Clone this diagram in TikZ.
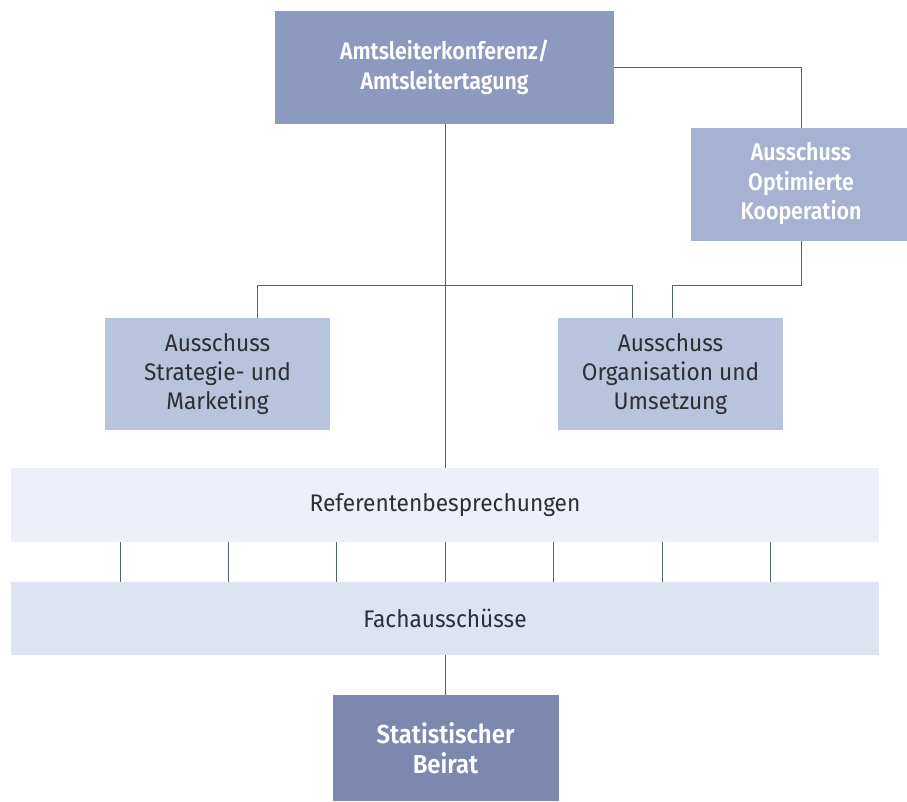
\documentclass[tikz,border=0pt]{standalone}
\usepackage{fontspec}
\setmainfont{Fira Sans}[FakeStretch=0.945, BoldFont={Fira Sans SemiBold}, BoldFeatures={FakeStretch=0.89}]
\newfontfamily\statfont{Fira Sans SemiBold}[FakeStretch=0.92]
\definecolor{cTop}{HTML}{8C9ABF}
\definecolor{cKoop}{HTML}{A6B2D1}
\definecolor{cMid}{HTML}{B8C3DE}
\definecolor{cRef}{HTML}{EDF0F8}
\definecolor{cFach}{HTML}{DEE3F2}
\definecolor{cStat}{HTML}{7B89AE}
\definecolor{cLine}{HTML}{56617F}
\definecolor{cText}{HTML}{2E2E33}
\begin{document}
\begin{tikzpicture}[x=1pt,y=-1pt,
  box/.style={inner sep=0pt, outer sep=0pt, align=center, font=\fontsize{24}{29}\selectfont},
  darkbox/.style={box, text=white, font=\fontsize{24}{29.5}\selectfont\bfseries},
  lightbox/.style={box, text=cText},
  conn/.style={draw=cLine, line width=1pt}]
\useasboundingbox (0,0) rectangle (907,801);
\fill[white] (0,0) rectangle (907,801);
% nodes
\node[darkbox, fill=cTop, minimum width=339, minimum height=113] (top) at (444.5,67.5)
  {Amtsleiterkonferenz/\\Amtsleitertagung};
\node[darkbox, fill=cKoop, minimum width=220, minimum height=113] (koop) at (801,184)
  {Ausschuss\\Optimierte\\Kooperation};
\node[lightbox, fill=cMid, minimum width=225, minimum height=112] (strat) at (217.5,374)
  {Ausschuss\\Strategie- und\\Marketing};
\node[lightbox, fill=cMid, minimum width=225, minimum height=112] (org) at (670.5,374)
  {Ausschuss\\Organisation und\\Umsetzung};
\node[lightbox, fill=cRef, minimum width=868, minimum height=74] (ref) at (445,505)
  {Referentenbesprechungen};
\node[lightbox, fill=cFach, minimum width=868, minimum height=73] (fach) at (445,618.5)
  {Fachausschüsse};
\node[box, text=white, font=\fontsize{26}{30}\statfont, fill=cStat, minimum width=226, minimum height=106] (stat) at (445.5,748)
  {Statistischer\\Beirat};
% connectors
\coordinate (j1) at (801,67);
\coordinate (j2) at (801,285);
\coordinate (j3) at (672,285);
\coordinate (h1) at (257,285);
\coordinate (h2) at (632,285);
\draw[conn] (top.east |- j1) -- (j1) -- (koop.north -| j1);
\draw[conn] (koop.south -| j2) -- (j2) -- (j3) -- (org.north -| j3);
\draw[conn] (strat.north -| h1) -- (h1) -- (h2) -- (org.north -| h2);
\draw[conn] (top.south -| 445,0) -- (ref.north -| 445,0);
\draw[conn] (fach.south -| 445,0) -- (stat.north -| 445,0);
\foreach \x in {120,228,336,445,553,662,770}
  \draw[conn] (ref.south -| \x,0) -- (fach.north -| \x,0);
\end{tikzpicture}
\end{document}
